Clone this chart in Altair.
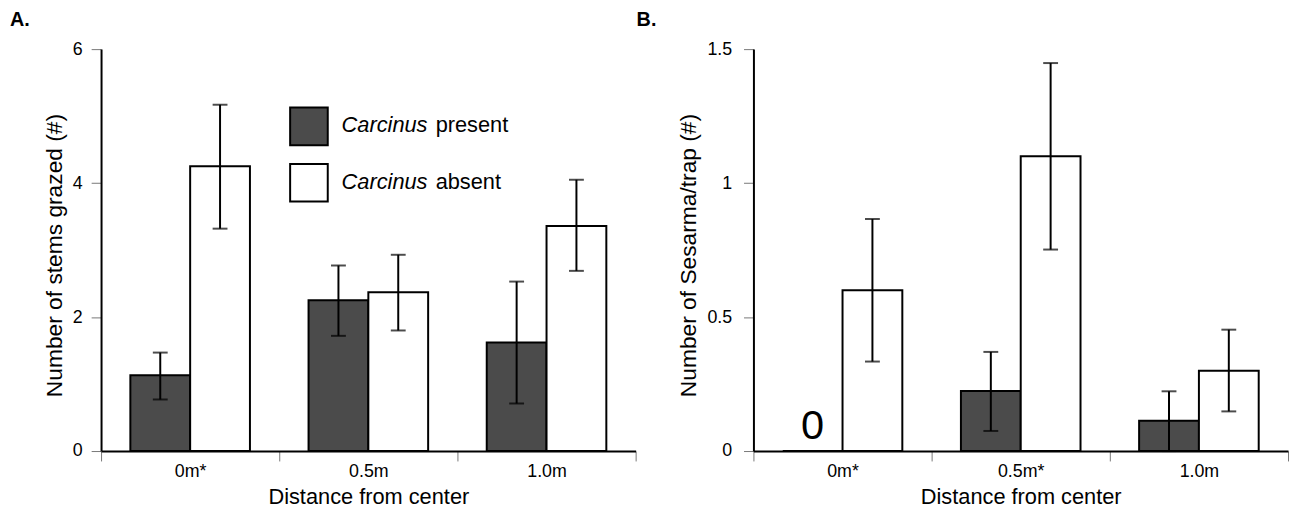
import json
import altair as alt
import pandas as pd

FONT = "Liberation Sans"

distances = ["0m", "0.5m", "1.0m"]
groups = ["Carcinus present", "Carcinus absent"]
legend_italic = ["Carcinus", "Carcinus"]
legend_plain = ["present", "absent"]
group_colors = ["#4b4b4b", "#ffffff"]

# Panel A: number of stems grazed
a_present = [1.13, 2.25, 1.62]
a_present_lo = [0.77, 1.72, 0.71]
a_present_hi = [1.47, 2.77, 2.53]
a_absent = [4.25, 2.37, 3.36]
a_absent_lo = [3.32, 1.80, 2.69]
a_absent_hi = [5.17, 2.93, 4.05]
a_tick_labels = ["0m*", "0.5m", "1.0m"]
a_y_ticks = [0, 2, 4, 6]

# Panel B: Sesarma per trap
b_present = [0.0, 0.224, 0.113]
b_present_lo = [None, 0.075, 0.0]
b_present_hi = [None, 0.37, 0.223]
b_absent = [0.60, 1.10, 0.30]
b_absent_lo = [0.334, 0.752, 0.148]
b_absent_hi = [0.866, 1.448, 0.453]
b_tick_labels = ["0m*", "0.5m*", "1.0m"]
b_y_ticks = [0, 0.5, 1, 1.5]

fill_scale = alt.Scale(domain=groups, range=group_colors)


def make_df(present, plo, phi, absent, alo, ahi):
    return pd.DataFrame({
        "distance": distances * 2,
        "group": [groups[0]] * 3 + [groups[1]] * 3,
        "value": present + absent,
        "lo": plo + alo,
        "hi": phi + ahi,
    })


def panel(df, tick_labels, y_ticks, y_title, letter, letter_dx, label_pad, legend=False, zero_label=False):
    label_expr = "%s[indexof(%s, datum.value)]" % (json.dumps(tick_labels), json.dumps(distances))
    x = alt.X(
        "distance:N", sort=distances,
        scale=alt.Scale(paddingInner=0, paddingOuter=0),
        axis=alt.Axis(
            title="Distance from center", labelAngle=0, tickBand="extent",
            labelExpr=label_expr, labelPadding=2, titlePadding=6,
        ),
    )
    xo = alt.XOffset("group:N", sort=groups, scale=alt.Scale(paddingInner=0, paddingOuter=0.49))
    yscale = alt.Scale(domain=[y_ticks[0], y_ticks[-1]], nice=False)
    base = alt.Chart(df).encode(x=x, xOffset=xo)
    bars = base.mark_bar(stroke="black", strokeWidth=2).encode(
        y=alt.Y("value:Q", scale=yscale,
                axis=alt.Axis(title=y_title, values=y_ticks, format=".1~f",
                              labelPadding=label_pad, titlePadding=6,
                              titleFontSize=23, titleY=208)),
        fill=alt.Fill("group:N", scale=fill_scale, legend=None),
    )
    rules = base.mark_rule(color="black", strokeWidth=2).encode(y="lo:Q", y2="hi:Q")
    cap_hi = base.mark_tick(color="black", thickness=2, size=15).encode(y="hi:Q")
    cap_lo = base.mark_tick(color="black", thickness=2, size=15).encode(y="lo:Q")
    layers = [bars, rules, cap_hi, cap_lo]
    if zero_label:
        zero = base.transform_filter(
            (alt.datum.value == 0) & (alt.datum.group == groups[0])
        ).mark_text(fontSize=42, font=FONT, baseline="alphabetic", dy=-12, color="black").encode(
            y="value:Q", text=alt.Text("value:Q", format="d")
        )
        layers.append(zero)
    if legend:
        leg_df = pd.DataFrame({"group": groups, "it": legend_italic, "pl": legend_plain})
        leg_y = [78, 135]
        for g, yy in zip(groups, leg_y):
            src = alt.Chart(leg_df).transform_filter(alt.datum.group == g)
            layers.append(src.mark_square(size=1444, stroke="black", strokeWidth=2, opacity=1).encode(
                x=alt.value(210), y=alt.value(yy),
                fill=alt.Fill("group:N", scale=fill_scale, legend=None)))
            layers.append(src.mark_text(align="left", baseline="alphabetic", fontSize=22,
                                        fontStyle="italic", font=FONT, color="black").encode(
                x=alt.value(243), y=alt.value(yy + 6), text="it:N"))
            layers.append(src.mark_text(align="left", baseline="alphabetic", fontSize=22,
                                        font=FONT, color="black").encode(
                x=alt.value(338), y=alt.value(yy + 6), text="pl:N"))
    return alt.layer(*layers).properties(
        width=540, height=406,
        title=alt.TitleParams(letter, anchor="start", frame="group", dx=letter_dx,
                              fontSize=20, fontWeight="bold", font=FONT, color="black", offset=10),
    )


df_a = make_df(a_present, a_present_lo, a_present_hi, a_absent, a_absent_lo, a_absent_hi)
df_b = make_df(b_present, b_present_lo, b_present_hi, b_absent, b_absent_lo, b_absent_hi)

pa = panel(df_a, a_tick_labels, a_y_ticks, "Number of stems grazed (#)", "A.", -92, 9, legend=True)
pb = panel(df_b, b_tick_labels, b_y_ticks, "Number of Sesarma/trap (#)", "B.", -118, 12, zero_label=True)

chart = alt.hconcat(pa, pb, spacing=119, bounds="flush").properties(
    padding={"left": 2, "top": 0, "right": 0, "bottom": 0}
).configure_view(stroke=None).configure_axis(
    domainColor="black", domainWidth=2, tickColor="#777777", tickWidth=1, tickSize=10,
    labelFont=FONT, labelFontSize=18, labelColor="black",
    titleFont=FONT, titleFontSize=22, titleFontWeight="normal", titleColor="black",
    grid=False,
)

chart.save("out.html", embed_options={"renderer": "svg", "actions": False})
